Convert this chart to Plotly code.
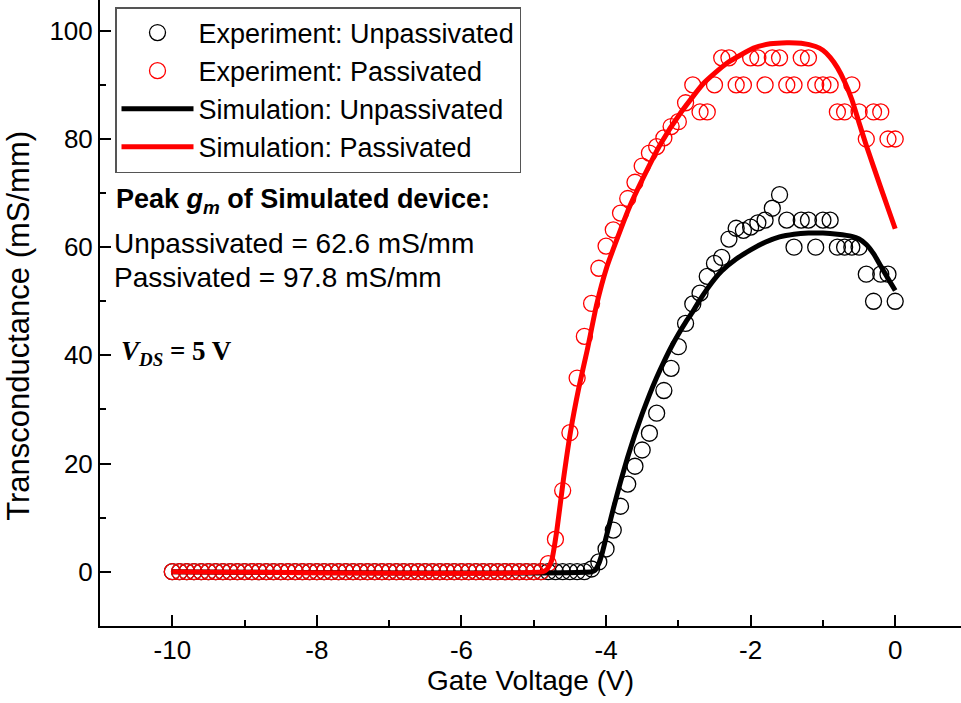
import plotly.graph_objects as go

# ---------------- data ----------------
gate_v = [-10.0, -9.9, -9.8, -9.7, -9.6, -9.5, -9.4, -9.3, -9.2, -9.1,
          -9.0, -8.9, -8.8, -8.7, -8.6, -8.5, -8.4, -8.3, -8.2, -8.1,
          -8.0, -7.9, -7.8, -7.7, -7.6, -7.5, -7.4, -7.3, -7.2, -7.1,
          -7.0, -6.9, -6.8, -6.7, -6.6, -6.5, -6.4, -6.3, -6.2, -6.1,
          -6.0, -5.9, -5.8, -5.7, -5.6, -5.5, -5.4, -5.3, -5.2, -5.1,
          -5.0, -4.9, -4.8, -4.7, -4.6, -4.5, -4.4, -4.3, -4.2, -4.1,
          -4.0, -3.9, -3.8, -3.7, -3.6, -3.5, -3.4, -3.3, -3.2, -3.1,
          -3.0, -2.9, -2.8, -2.7, -2.6, -2.5, -2.4, -2.3, -2.2, -2.1,
          -2.0, -1.9, -1.8, -1.7, -1.6, -1.5, -1.4, -1.3, -1.2, -1.1,
          -1.0, -0.9, -0.8, -0.7, -0.6, -0.5, -0.4, -0.3, -0.2, -0.1, 0.0]

exp_unpassivated = [0, 0, 0, 0, 0, 0, 0, 0, 0, 0,
                    0, 0, 0, 0, 0, 0, 0, 0, 0, 0,
                    0, 0, 0, 0, 0, 0, 0, 0, 0, 0,
                    0, 0, 0, 0, 0, 0, 0, 0, 0, 0,
                    0, 0, 0, 0, 0, 0, 0, 0, 0, 0,
                    0, 0, 0, 0, 0, 0, 0, 0, 0.5, 1.8,
                    4.2, 7.7, 12.1, 16.2, 19.5, 22.5, 25.6, 29.3, 33.5, 37.6,
                    41.6, 45.9, 49.5, 51.5, 54.6, 57.0, 58.1, 61.5, 63.5, 63.1,
                    63.7, 64.5, 65.0, 67.2, 69.7, 65.0, 60.0, 65.0, 65.0, 60.0,
                    65.0, 65.0, 60.0, 60.0, 60.0, 60.0, 55.0, 50.0, 55.0, 55.0, 50.0]

exp_passivated = [0, 0, 0, 0, 0, 0, 0, 0, 0, 0,
                  0, 0, 0, 0, 0, 0, 0, 0, 0, 0,
                  0, 0, 0, 0, 0, 0, 0, 0, 0, 0,
                  0, 0, 0, 0, 0, 0, 0, 0, 0, 0,
                  0, 0, 0, 0, 0, 0, 0, 0, 0, 0,
                  0, 0, 1.5, 6.0, 15.0, 25.7, 35.8, 43.5, 49.6, 56.1,
                  60.2, 63.2, 66.3, 69.0, 72.0, 75.0, 77.4, 78.6, 80.2, 82.3,
                  83.2, 86.7, 90.0, 85.0, 85.0, 90.0, 95.0, 95.0, 90.0, 90.0,
                  95.0, 95.0, 90.0, 95.0, 95.0, 90.0, 90.0, 95.0, 95.0, 90.0,
                  90.0, 90.0, 85.0, 85.0, 90.0, 85.0, 80.0, 85.0, 85.0, 80.0, 80.0]

sim_unpass_v = [-10.0, -4.2, -4.15, -4.1, -4.05, -4.0, -3.9, -3.8, -3.7, -3.6,
                -3.5, -3.4, -3.3, -3.2, -3.1, -3.0, -2.9, -2.8, -2.7, -2.6,
                -2.5, -2.4, -2.2, -2.0, -1.8, -1.6, -1.4, -1.2, -1.0, -0.8,
                -0.6, -0.5, -0.4, -0.3, -0.2, -0.1, 0.0]
sim_unpass_gm = [0.0, 0.0, 0.3, 1.5, 3.6, 6.3, 11.6, 16.6, 21.2, 25.4,
                 29.2, 32.7, 35.9, 38.8, 41.5, 43.9, 46.1, 48.1, 50.3, 52.3,
                 54.1, 55.6, 57.8, 59.5, 60.9, 61.9, 62.4, 62.6, 62.6, 62.4,
                 62.0, 61.5, 60.5, 58.8, 56.5, 54.2, 52.0]

sim_pass_v = [-10.0, -4.87, -4.82, -4.78, -4.75, -4.68, -4.59, -4.49, -4.38, -4.26,
              -4.13, -3.99, -3.8, -3.67, -3.48, -3.25, -2.97, -2.65, -2.33, -1.96,
              -1.73, -1.5, -1.3, -1.1, -1.0, -0.9, -0.8, -0.7, -0.6, -0.5,
              -0.4, -0.3, -0.2, -0.1, 0.0]
sim_pass_gm = [0.0, 0.0, 0.4, 1.2, 2.2, 7.7, 17.0, 26.0, 33.8, 41.0,
               49.4, 56.3, 63.2, 67.6, 73.0, 79.0, 84.8, 90.3, 94.0, 96.8,
               97.6, 97.8, 97.7, 97.1, 96.4, 95.1, 93.2, 90.6, 87.3, 83.0,
               78.8, 74.9, 71.0, 67.2, 63.4]

legend_names = ["Experiment: Unpassivated", "Experiment: Passivated",
                "Simulation: Unpassivated", "Simulation: Passivated"]

x_ticks = [-10, -8, -6, -4, -2, 0]
y_ticks = [0, 20, 40, 60, 80, 100]

# ---------------- figure ----------------
FONT = "Liberation Sans, Arial, sans-serif"
SERIF = "Liberation Serif, Times New Roman, serif"
fig = go.Figure()

fig.add_trace(go.Scatter(
    x=gate_v, y=exp_unpassivated, mode="markers", name=legend_names[0],
    marker=dict(symbol="circle-open", size=16, color="black",
                line=dict(width=1.3, color="black"))))
fig.add_trace(go.Scatter(
    x=gate_v, y=exp_passivated, mode="markers", name=legend_names[1],
    marker=dict(symbol="circle-open", size=16, color="#ff0000",
                line=dict(width=1.3, color="#ff0000"))))
fig.add_trace(go.Scatter(
    x=sim_unpass_v, y=sim_unpass_gm, mode="lines", name=legend_names[2],
    line=dict(color="black", width=5, shape="spline", smoothing=0.5)))
fig.add_trace(go.Scatter(
    x=sim_pass_v, y=sim_pass_gm, mode="lines", name=legend_names[3],
    line=dict(color="#ff0000", width=5, shape="spline", smoothing=0.5)))

W, H = 961, 703
ML, MR, MT, MB = 100, 0, 0, 77
PW, PH = W - ML - MR, H - MT - MB


def px(xp):
    return (xp - ML) / PW


def py(yp):
    return (H - MB - yp) / PH


fig.update_layout(
    width=W, height=H,
    margin=dict(l=ML, r=MR, t=MT, b=MB, pad=0, autoexpand=False),
    paper_bgcolor="white", plot_bgcolor="white",
    font=dict(family=FONT, size=28, color="black"),
    showlegend=True,
    legend=dict(
        x=px(115), y=py(7), xanchor="left", yanchor="top",
        bgcolor="white", bordercolor="#555", borderwidth=1.5,
        font=dict(family=FONT, size=27, color="black"),
        itemwidth=72, tracegroupgap=0, itemsizing="trace",
    ),
    xaxis=dict(
        range=[-11, 0.91], tickvals=x_ticks, ticktext=[str(v) for v in x_ticks],
        ticks="inside", ticklen=11, tickwidth=2, tickcolor="black",
        minor=dict(ticks="inside", ticklen=6, tickwidth=2, tickcolor="black", dtick=1, tick0=-11),
        showline=True, linecolor="black", linewidth=2, mirror=False,
        showgrid=False, zeroline=False,
        tickfont=dict(family=FONT, size=26, color="black"),
        title=dict(text="Gate Voltage (V)", font=dict(family=FONT, size=28, color="black"), standoff=6),
    ),
    yaxis=dict(
        range=[-10.04, 105.7], tickvals=y_ticks, ticktext=[str(v) for v in y_ticks],
        ticks="inside", ticklen=11, tickwidth=2, tickcolor="black",
        minor=dict(ticks="inside", ticklen=6, tickwidth=2, tickcolor="black", dtick=10, tick0=0),
        showline=True, linecolor="black", linewidth=2, mirror=False,
        showgrid=False, zeroline=False,
        tickfont=dict(family=FONT, size=26, color="black"),
        title=dict(text="Transconductance (mS/mm)&nbsp;&nbsp;&nbsp;",
                   font=dict(family=FONT, size=31, color="black"), standoff=11),
    ),
)

annotations = [
    dict(text="<b>Peak <i>g</i><sub><i>m</i></sub> of Simulated device:</b>",
         x=px(114), y=py(201), font=dict(family=FONT, size=27, color="black")),
    dict(text="Unpassivated = 62.6 mS/mm",
         x=px(112), y=py(243), font=dict(family=FONT, size=28, color="black")),
    dict(text="Passivated = 97.8 mS/mm",
         x=px(112), y=py(277), font=dict(family=FONT, size=28, color="black")),
    dict(text="<b><i>V</i><sub><i>DS</i></sub> = 5 V</b>",
         x=px(119), y=py(353), font=dict(family=SERIF, size=27, color="black")),
]
for a in annotations:
    fig.add_annotation(xref="paper", yref="paper", xanchor="left", yanchor="middle",
                       showarrow=False, align="left", **a)

fig.write_html("out.html", config={"displayModeBar": False},
               post_script="document.body.style.margin='0px';document.body.style.overflow='hidden';")
